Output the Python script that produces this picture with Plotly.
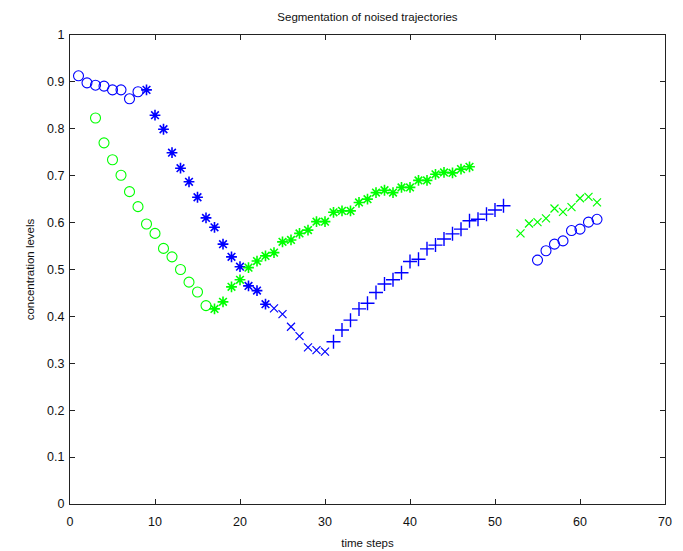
import plotly.graph_objects as go

# Segmented trajectories: each segment has its own marker style and colour
blue_circ_a_x = [1, 2, 3, 4, 5, 6, 7, 8]
blue_circ_a_y = [0.913, 0.898, 0.893, 0.891, 0.883, 0.883, 0.864, 0.879]

blue_star_x = list(range(9, 24))
blue_star_y = [0.883, 0.829, 0.799, 0.749, 0.716, 0.687, 0.654, 0.610,
               0.590, 0.554, 0.527, 0.506, 0.465, 0.455, 0.426]

blue_x_x = [24, 25, 26, 27, 28, 29, 30]
blue_x_y = [0.417, 0.405, 0.378, 0.358, 0.334, 0.328, 0.325]

blue_plus_x = list(range(31, 52))
blue_plus_y = [0.346, 0.371, 0.392, 0.416, 0.428, 0.451, 0.469, 0.478,
               0.493, 0.517, 0.522, 0.544, 0.552, 0.565, 0.576, 0.586,
               0.604, 0.607, 0.618, 0.627, 0.636]

blue_circ_b_x = [55, 56, 57, 58, 59, 60, 61, 62]
blue_circ_b_y = [0.520, 0.540, 0.554, 0.561, 0.583, 0.586, 0.601, 0.607]

green_circ_x = list(range(3, 17))
green_circ_y = [0.823, 0.770, 0.734, 0.701, 0.666, 0.634, 0.597, 0.577,
                0.545, 0.527, 0.500, 0.473, 0.452, 0.423]

green_star_x = list(range(17, 48))
green_star_y = [0.416, 0.431, 0.463, 0.478, 0.504, 0.518, 0.529, 0.536,
                0.559, 0.563, 0.577, 0.584, 0.602, 0.602, 0.622, 0.625,
                0.625, 0.643, 0.650, 0.664, 0.669, 0.664, 0.675, 0.675,
                0.690, 0.690, 0.703, 0.707, 0.706, 0.714, 0.719]

green_x_x = [53, 54, 55, 56, 57, 58, 59, 60, 61, 62]
green_x_y = [0.577, 0.598, 0.601, 0.609, 0.630, 0.623, 0.633, 0.652,
             0.655, 0.643]

x_ticks = [0, 10, 20, 30, 40, 50, 60, 70]
y_ticks = [0, 0.1, 0.2, 0.3, 0.4, 0.5, 0.6, 0.7, 0.8, 0.9, 1]
y_tick_text = ["0", "0.1", "0.2", "0.3", "0.4", "0.5", "0.6", "0.7", "0.8", "0.9", "1"]

BLUE = "rgb(0,0,255)"
GREEN = "rgb(0,255,0)"

# (x, y, colour, symbol, size, outline width)
segments = [
    (blue_circ_a_x, blue_circ_a_y, BLUE, "circle-open", 10, 1.1),
    (blue_star_x, blue_star_y, BLUE, "asterisk-open", 9, 1.6),
    (blue_x_x, blue_x_y, BLUE, "x-thin-open", 8, 1.2),
    (blue_plus_x, blue_plus_y, BLUE, "cross-thin-open", 10, 1.4),
    (blue_circ_b_x, blue_circ_b_y, BLUE, "circle-open", 10, 1.1),
    (green_circ_x, green_circ_y, GREEN, "circle-open", 10, 1.1),
    (green_star_x, green_star_y, GREEN, "asterisk-open", 9, 1.6),
    (green_x_x, green_x_y, GREEN, "x-thin-open", 8, 1.2),
]

fig = go.Figure()
for xs, ys, col, sym, sz, lw in segments:
    fig.add_trace(go.Scatter(
        x=xs, y=ys, mode="markers",
        marker=dict(symbol=sym, size=sz, color=col,
                    line=dict(color=col, width=lw)),
        showlegend=False, hoverinfo="x+y",
    ))

FONT = "Liberation Sans, Arial"
axis_common = dict(
    showgrid=False, zeroline=False, showline=True, mirror="ticks",
    linecolor="#222", linewidth=1, ticks="inside", ticklen=5,
    tickcolor="#222", tickfont=dict(family=FONT, size=12.5, color="#111"),
    automargin=False,
)

fig.update_layout(
    width=683, height=551,
    margin=dict(l=70, r=18, t=35, b=47),
    paper_bgcolor="white", plot_bgcolor="white",
    title=dict(text="Segmentation of noised trajectories", x=0.538, xanchor="center",
               y=0.969, yanchor="middle",
               font=dict(family=FONT, size=11.5, color="#111")),
    xaxis=dict(range=[0, 70], tickvals=x_ticks, ticktext=[str(v) for v in x_ticks],
               ticklabelstandoff=6,
               title=dict(text="time steps", standoff=10,
                          font=dict(family=FONT, size=11.5, color="#111")),
               **axis_common),
    yaxis=dict(range=[0, 1], tickvals=y_ticks, ticktext=y_tick_text,
               ticklabelstandoff=2,
               title=dict(text="concentration levels", standoff=10,
                          font=dict(family=FONT, size=11.5, color="#111")),
               **axis_common),
)

fig.write_html("out.html")
